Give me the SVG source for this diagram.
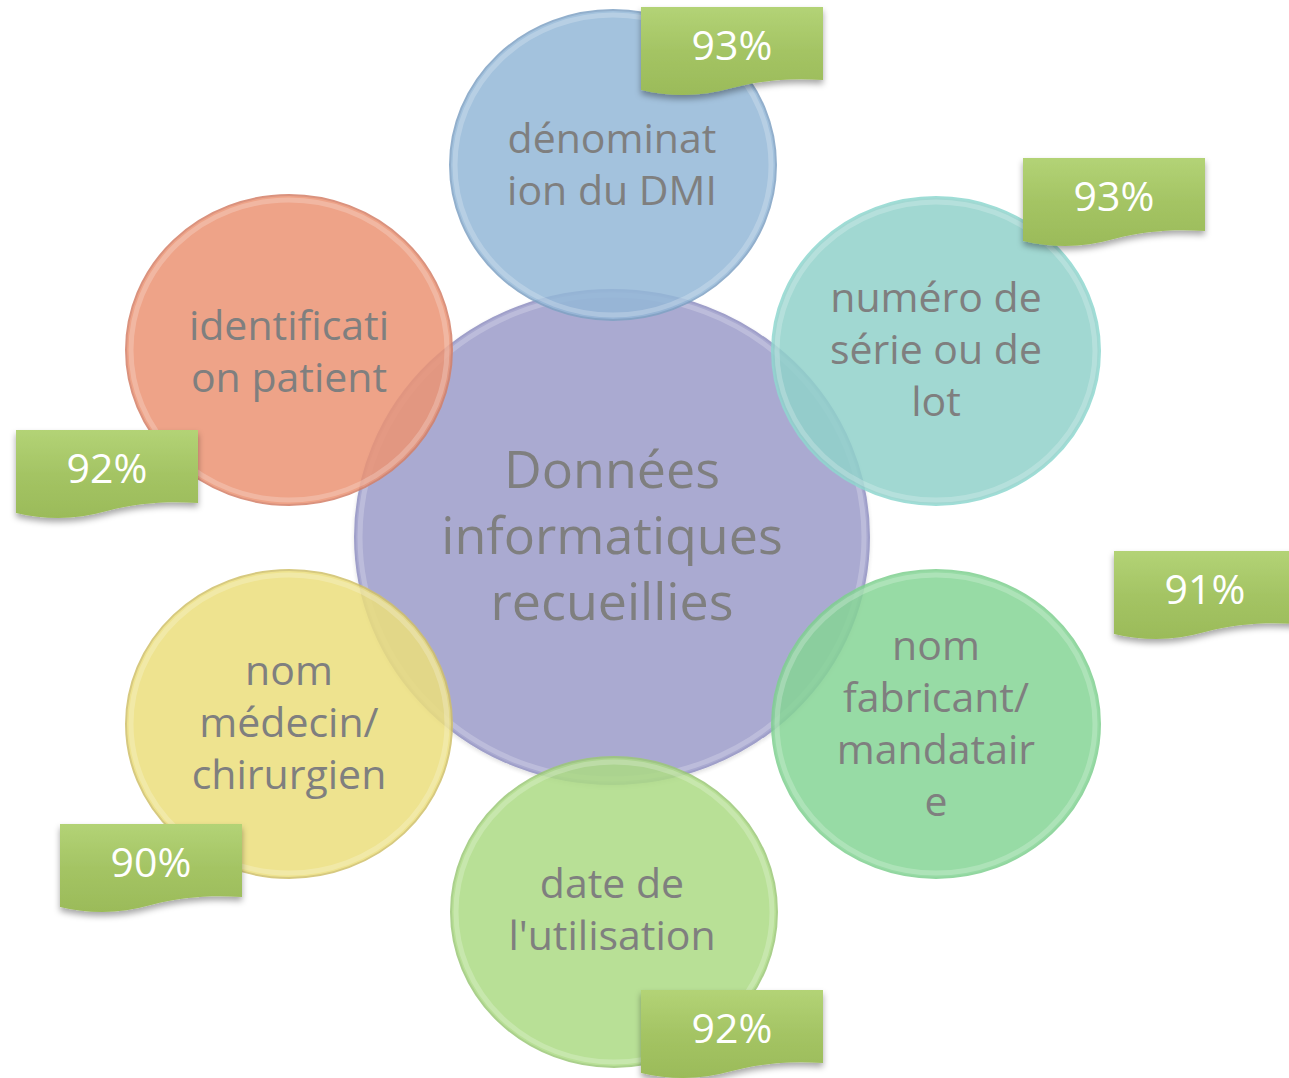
<svg xmlns="http://www.w3.org/2000/svg" width="1289" height="1078" viewBox="0 0 1289 1078">
<defs>
<linearGradient id="bg" x1="0" y1="0" x2="0" y2="1">
<stop offset="0" stop-color="#b3d376"/>
<stop offset="0.5" stop-color="#a4c464"/>
<stop offset="1" stop-color="#9bbb59"/>
</linearGradient>
<filter id="sh" x="-20%" y="-20%" width="140%" height="150%">
<feDropShadow dx="0" dy="4" stdDeviation="3" flood-color="#000" flood-opacity="0.35"/>
</filter>
<filter id="csh" x="-10%" y="-10%" width="120%" height="120%">
<feDropShadow dx="0" dy="2" stdDeviation="2" flood-color="#000" flood-opacity="0.15"/>
</filter>
<path id="wave" d="M0,0 L182,0 L182,73 C150,71 122,73 91,81 C60,90 30,90 0,83 Z"/>
</defs>
<style>
.c{stroke-width:2;opacity:0.85}
.hl{fill:none;stroke:#ffffff;stroke-width:5;stroke-opacity:0.22}
.t{font-family:"Open Sans","Liberation Sans",sans-serif;fill:#7f7f7f;text-anchor:middle}
.s{font-size:41px}
.big{font-size:52px}
.p{font-family:"Open Sans","Liberation Sans",sans-serif;fill:#ffffff;font-size:41px;text-anchor:middle}
</style>
<rect width="1289" height="1078" fill="#ffffff"/>
<g id="center">
<ellipse class="c" cx="612" cy="537" rx="257" ry="247" fill="#9c9cca" stroke="#8f8fc0" filter="url(#csh)"/>
<ellipse class="hl" cx="612" cy="537" rx="252" ry="242"/>
</g>
<g id="node-top">
<ellipse class="c" cx="613" cy="165" rx="163" ry="155" fill="#94b8d8" stroke="#7fa2c4"/>
<ellipse class="hl" cx="613" cy="165" rx="158" ry="150"/>
</g>
<g id="node-topright">
<ellipse class="c" cx="936" cy="351" rx="164" ry="154" fill="#91d2cb" stroke="#8fd8d0"/>
<ellipse class="hl" cx="936" cy="351" rx="159" ry="149"/>
</g>
<g id="node-bottomright">
<ellipse class="c" cx="936" cy="724" rx="164" ry="154" fill="#86d596" stroke="#7fd090"/>
<ellipse class="hl" cx="936" cy="724" rx="159" ry="149"/>
</g>
<g id="node-bottom">
<ellipse class="c" cx="614" cy="912" rx="163" ry="155" fill="#acdb84" stroke="#9cc878"/>
<ellipse class="hl" cx="614" cy="912" rx="158" ry="150"/>
</g>
<g id="node-bottomleft">
<ellipse class="c" cx="289" cy="724" rx="163" ry="154" fill="#ecdf7c" stroke="#d0c06a"/>
<ellipse class="hl" cx="289" cy="724" rx="158" ry="149"/>
</g>
<g id="node-topleft">
<ellipse class="c" cx="289" cy="350" rx="163" ry="155" fill="#ec9474" stroke="#d48068"/>
<ellipse class="hl" cx="289" cy="350" rx="158" ry="150"/>
</g>
<g id="labels">
<text class="t big" x="612" y="488">Données</text>
<text class="t big" x="612" y="554">informatiques</text>
<text class="t big" x="612" y="620">recueillies</text>
<text class="t s" x="612" y="153">dénominat</text>
<text class="t s" x="612" y="205">ion du DMI</text>
<text class="t s" x="936" y="312">numéro de</text>
<text class="t s" x="936" y="364">série ou de</text>
<text class="t s" x="936" y="416">lot</text>
<text class="t s" x="936" y="660">nom</text>
<text class="t s" x="936" y="712">fabricant/</text>
<text class="t s" x="936" y="764">mandatair</text>
<text class="t s" x="936" y="816">e</text>
<text class="t s" x="612" y="898">date de</text>
<text class="t s" x="612" y="950">l'utilisation</text>
<text class="t s" x="289" y="685">nom</text>
<text class="t s" x="289" y="737">médecin/</text>
<text class="t s" x="289" y="789">chirurgien</text>
<text class="t s" x="289" y="340">identificati</text>
<text class="t s" x="289" y="392">on patient</text>
</g>
<g id="badge-top" transform="translate(641,7)">
<use href="#wave" fill="url(#bg)" filter="url(#sh)"/>
<text class="p" x="91" y="53">93%</text>
</g>
<g id="badge-topright" transform="translate(1023,158)">
<use href="#wave" fill="url(#bg)" filter="url(#sh)"/>
<text class="p" x="91" y="53">93%</text>
</g>
<g id="badge-right" transform="translate(1114,551)">
<use href="#wave" fill="url(#bg)" filter="url(#sh)"/>
<text class="p" x="91" y="53">91%</text>
</g>
<g id="badge-bottom" transform="translate(641,990)">
<use href="#wave" fill="url(#bg)" filter="url(#sh)"/>
<text class="p" x="91" y="53">92%</text>
</g>
<g id="badge-bottomleft" transform="translate(60,824)">
<use href="#wave" fill="url(#bg)" filter="url(#sh)"/>
<text class="p" x="91" y="53">90%</text>
</g>
<g id="badge-left" transform="translate(16,430)">
<use href="#wave" fill="url(#bg)" filter="url(#sh)"/>
<text class="p" x="91" y="53">92%</text>
</g>
</svg>
